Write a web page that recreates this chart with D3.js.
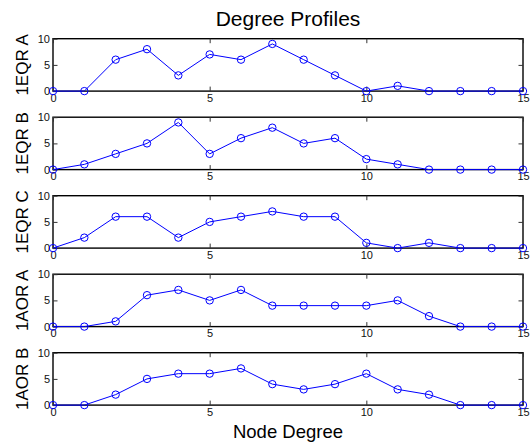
<!DOCTYPE html>
<html>
<head>
<meta charset="utf-8">
<script src="https://cdn.jsdelivr.net/npm/d3@7"></script>
<style>
  body { margin: 0; background: #fff; }
  text { font-family: "Liberation Sans", Arial, Helvetica, sans-serif; }
</style>
</head>
<body>
<div id="canvas"></div>
<script>
// node degree 0..15
var degrees = d3.range(0, 16);
var panelNames = ['1EQR A', '1EQR B', '1EQR C', '1AOR A', '1AOR B'];
var eqrA = [0, 0, 6, 8, 3, 7, 6, 9, 6, 3, 0, 1, 0, 0, 0, 0];
var eqrB = [0, 1, 3, 5, 9, 3, 6, 8, 5, 6, 2, 1, 0, 0, 0, 0];
var eqrC = [0, 2, 6, 6, 2, 5, 6, 7, 6, 6, 1, 0, 1, 0, 0, 0];
var aorA = [0, 0, 1, 6, 7, 5, 7, 4, 4, 4, 4, 5, 2, 0, 0, 0];
var aorB = [0, 0, 2, 5, 6, 6, 7, 4, 3, 4, 6, 3, 2, 0, 0, 0];
var xTicks = [0, 5, 10, 15];
var yTicks = [0, 5, 10];

var series = [eqrA, eqrB, eqrC, aorA, aorB];

var svgWidth = 531;
var svgHeight = 443;
var left = 53, right = 523;
var top0 = 38.7, step = 78.5, panelH = 52.4;
var lineColor = '#0000ff';

var svg = d3.select('#canvas')
    .append('svg')
    .attr('width', svgWidth)
    .attr('height', svgHeight);

var x = d3.scaleLinear().domain([0, 15]).range([left, right]);

svg.append('text')
    .attr('x', (left + right) / 2)
    .attr('y', 25.7)
    .attr('text-anchor', 'middle')
    .attr('font-size', '21px')
    .text('Degree Profiles');

svg.append('text')
    .attr('x', (left + right) / 2)
    .attr('y', 438.3)
    .attr('text-anchor', 'middle')
    .attr('font-size', '18.5px')
    .text('Node Degree');

series.forEach(function (vals, i) {
    var top = top0 + i * step;
    var bottom = top + panelH;
    var y = d3.scaleLinear().domain([0, 10]).range([bottom, top]);
    var g = svg.append('g');

    // frame
    g.append('rect')
        .attr('x', left)
        .attr('y', top)
        .attr('width', right - left)
        .attr('height', panelH)
        .attr('fill', 'none')
        .attr('stroke', 'black')
        .attr('stroke-width', 1.4);

    // axes, ticks inward
    var axL = g.append('g').attr('transform', 'translate(' + left + ',0)')
        .call(d3.axisLeft(y).tickValues(yTicks).tickSize(-4.5).tickSizeOuter(0).tickPadding(3));
    var axR = g.append('g').attr('transform', 'translate(' + right + ',0)')
        .call(d3.axisRight(y).tickValues(yTicks).tickSize(-4.5).tickSizeOuter(0).tickFormat(''));
    var axB = g.append('g').attr('transform', 'translate(0,' + bottom + ')')
        .call(d3.axisBottom(x).tickValues(xTicks).tickSize(-4.5).tickSizeOuter(0).tickPadding(3));
    var axT = g.append('g').attr('transform', 'translate(0,' + top + ')')
        .call(d3.axisTop(x).tickValues(xTicks).tickSize(-4.5).tickSizeOuter(0).tickFormat(''));

    [axL, axR, axB, axT].forEach(function (ax) {
        ax.select('.domain').remove();
        ax.selectAll('line').attr('stroke', '#333');
        ax.selectAll('text')
            .attr('fill', '#111')
            .attr('font-size', '11px')
            .attr('font-family', '"Liberation Sans", Arial, Helvetica, sans-serif');
    });

    // y label
    g.append('text')
        .attr('transform', 'translate(28.3,' + (top + panelH / 2) + ') rotate(-90)')
        .attr('text-anchor', 'middle')
        .attr('font-size', '17px')
        .text(panelNames[i]);

    var pts = degrees.map(function (d, j) { return [d, vals[j]]; });

    g.append('path')
        .datum(pts)
        .attr('fill', 'none')
        .attr('stroke', lineColor)
        .attr('stroke-width', 1)
        .attr('d', d3.line().x(function (p) { return x(p[0]); }).y(function (p) { return y(p[1]); }));

    g.selectAll('circle.pt')
        .data(pts)
        .enter()
        .append('circle')
        .attr('class', 'pt')
        .attr('cx', function (p) { return x(p[0]); })
        .attr('cy', function (p) { return y(p[1]); })
        .attr('r', 3.7)
        .attr('fill', 'none')
        .attr('stroke', lineColor)
        .attr('stroke-width', 1);
});
</script>
</body>
</html>
